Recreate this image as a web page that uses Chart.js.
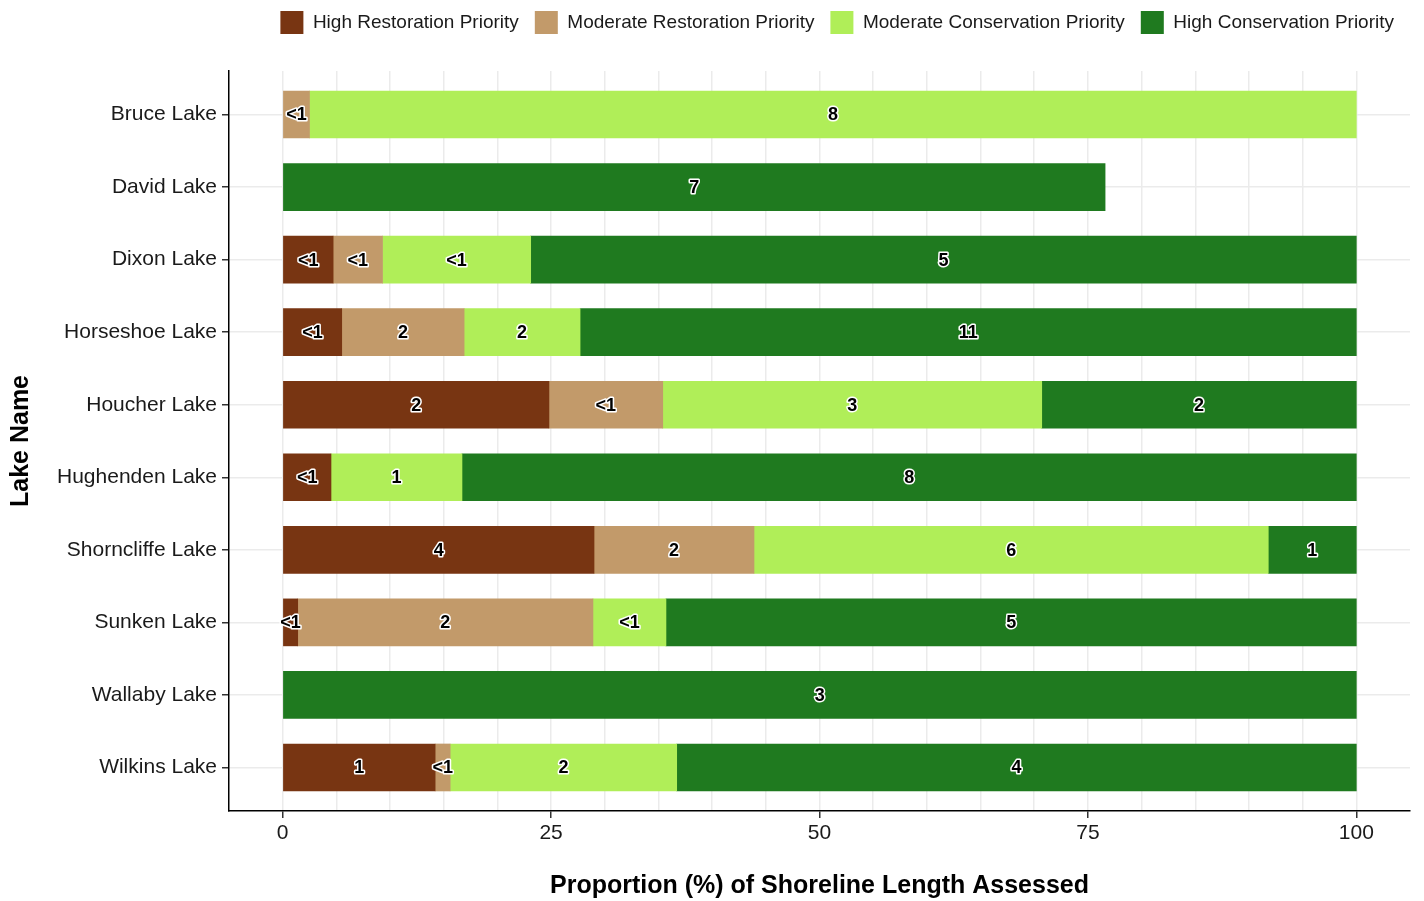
<!DOCTYPE html>
<html>
<head>
<meta charset="utf-8">
<title>Shoreline priority by lake</title>
<script src="https://cdn.jsdelivr.net/npm/chart.js@4/dist/chart.umd.min.js"></script>
<style>
  body { margin: 0; background: #fff; }
</style>
</head>
<body>
<canvas id="lakeChart" width="1424" height="901"></canvas>
<script>
// lake names, top to bottom
const lakes = ['Bruce Lake', 'David Lake', 'Dixon Lake', 'Horseshoe Lake', 'Houcher Lake',
  'Hughenden Lake', 'Shorncliffe Lake', 'Sunken Lake', 'Wallaby Lake', 'Wilkins Lake'];

// proportion (%) of shoreline length in each class
const highRestoration = [0, 0, 4.7, 5.5, 24.8, 4.5, 29.0, 1.4, 0, 14.2];
const modRestoration = [2.5, 0, 4.6, 11.4, 10.6, 0, 14.9, 27.5, 0, 1.4];
const modConservation = [97.5, 0, 13.8, 10.8, 35.3, 12.2, 47.9, 6.8, 0, 21.1];
const highConservation = [0, 76.6, 76.9, 72.3, 29.3, 83.3, 8.2, 64.3, 100, 63.3];

// counts printed inside each segment
const highRestorationCounts = ['', '', '<1', '<1', '2', '<1', '4', '<1', '', '1'];
const modRestorationCounts = ['<1', '', '<1', '2', '<1', '', '2', '2', '', '<1'];
const modConservationCounts = ['8', '', '<1', '2', '3', '1', '6', '<1', '', '2'];
const highConservationCounts = ['', '7', '5', '11', '2', '8', '1', '5', '3', '4'];

// x axis
const xTickLabels = [0, 25, 50, 75, 100];

const FONT = '"Liberation Sans", Arial, Helvetica, sans-serif';

// zero shares are left out so no sliver gets drawn
const toPoints = (arr) => arr.map((v, i) => ({ x: v === 0 ? null : v, y: i }));

// write the counts in the middle of each bar piece
const segmentLabels = {
  id: 'segmentLabels',
  afterDatasetsDraw(chart) {
    const ctx = chart.ctx;
    ctx.save();
    ctx.font = 'bold 18px ' + FONT;
    ctx.textAlign = 'center';
    ctx.textBaseline = 'middle';
    ctx.lineJoin = 'round';
    chart.data.datasets.forEach((ds, i) => {
      const meta = chart.getDatasetMeta(i);
      meta.data.forEach((bar, j) => {
        const txt = ds.counts[j];
        if (!txt) return;
        const { x, y, base } = bar.getProps(['x', 'y', 'base'], true);
        const cx = (x + base) / 2;
        ctx.lineWidth = 3;
        ctx.strokeStyle = '#fff';
        ctx.strokeText(txt, cx, y + 1);
        ctx.fillStyle = '#000';
        ctx.fillText(txt, cx, y + 1);
      });
    });
    ctx.restore();
  }
};

// leave some room under the legend
const legendGap = {
  id: 'legendGap',
  beforeInit(chart) {
    const fit = chart.legend.fit;
    chart.legend.fit = function () {
      fit.call(this);
      this.height += 27;
    };
  }
};

const isInt = (v) => Math.abs(v - Math.round(v)) < 1e-6;

const canvas = document.getElementById('lakeChart');
const chart = new Chart(canvas.getContext('2d'), {
  type: 'bar',
  data: {
    datasets: [
      { label: 'High Restoration Priority', data: toPoints(highRestoration), counts: highRestorationCounts, backgroundColor: '#783512' },
      { label: 'Moderate Restoration Priority', data: toPoints(modRestoration), counts: modRestorationCounts, backgroundColor: '#C29A6A' },
      { label: 'Moderate Conservation Priority', data: toPoints(modConservation), counts: modConservationCounts, backgroundColor: '#B0EE58' },
      { label: 'High Conservation Priority', data: toPoints(highConservation), counts: highConservationCounts, backgroundColor: '#1F7A1F' },
    ],
  },
  options: {
    responsive: false,
    animation: false,
    indexAxis: 'y',
    barThickness: 47,
    layout: { padding: { left: 0, right: 14, top: -5, bottom: 0 } },
    plugins: {
      legend: {
        position: 'top',
        align: 'end',
        labels: {
          boxWidth: 23,
          boxHeight: 23,
          padding: 16,
          color: '#1a1a1a',
          font: { family: FONT, size: 19 },
        },
      },
      tooltip: { enabled: false },
    },
    scales: {
      x: {
        type: 'linear',
        stacked: true,
        min: -5,
        max: 105,
        afterFit: (scale) => { scale.height = 90; },
        ticks: {
          stepSize: 5,
          autoSkip: false,
          maxRotation: 0,
          padding: 3,
          color: '#1a1a1a',
          font: { family: FONT, size: 21 },
          callback: (v) => (xTickLabels.includes(v) ? String(v) : ''),
        },
        grid: {
          offset: false,
          color: (c) => (c.tick && c.tick.value >= 0 && c.tick.value <= 100 ? '#EBEBEB' : 'rgba(0,0,0,0)'),
          lineWidth: 1.5,
          tickLength: 7,
          tickColor: (c) => (c.tick && xTickLabels.includes(c.tick.value) ? '#333' : 'rgba(0,0,0,0)'),
          tickWidth: 1.5,
        },
        border: { display: true, color: '#000', width: 1.5 },
        title: {
          display: true,
          text: 'Proportion (%) of Shoreline Length Assessed',
          color: '#000',
          font: { family: FONT, size: 25, weight: 'bold' },
          padding: { top: 0, bottom: 0 },
        },
      },
      y: {
        type: 'linear',
        stacked: true,
        reverse: true,
        offset: false,
        min: -0.6,
        max: 9.6,
        afterFit: (scale) => { scale.width = 229; },
        ticks: {
          stepSize: 1,
          autoSkip: false,
          padding: 5,
          color: '#1a1a1a',
          font: { family: FONT, size: 21 },
          callback: (v) => (isInt(v) && v >= 0 && v < lakes.length ? lakes[Math.round(v)] : ''),
        },
        grid: {
          offset: false,
          color: (c) => (c.tick && isInt(c.tick.value) ? '#EBEBEB' : 'rgba(0,0,0,0)'),
          lineWidth: 1.5,
          tickLength: 7,
          tickColor: (c) => (c.tick && isInt(c.tick.value) ? '#333' : 'rgba(0,0,0,0)'),
          tickWidth: 1.5,
        },
        border: { display: true, color: '#000', width: 1.5 },
        title: {
          display: true,
          text: 'Lake Name',
          color: '#000',
          font: { family: FONT, size: 25, weight: 'bold' },
          padding: { top: 6, bottom: 0 },
        },
      },
    },
  },
  plugins: [segmentLabels, legendGap],
});
</script>
</body>
</html>
